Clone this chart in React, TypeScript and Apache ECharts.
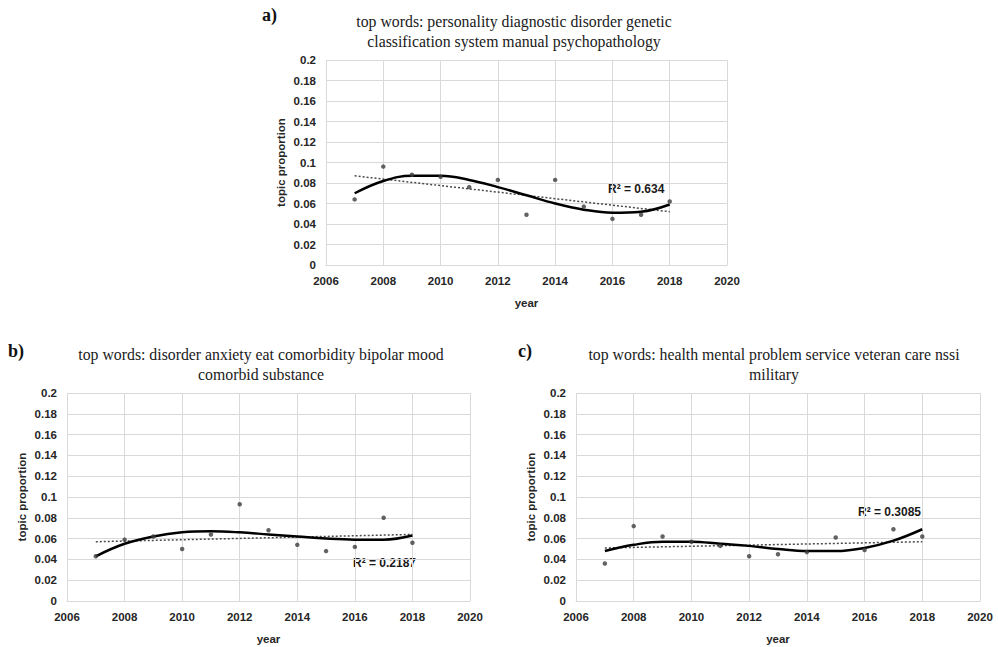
import React, { useEffect, useRef } from "react";
import * as echarts from "echarts";

const years = [2007, 2008, 2009, 2010, 2011, 2012, 2013, 2014, 2015, 2016, 2017, 2018];
const trendYears = [2007, 2018];
const xTicks = { min: 2006, max: 2020, interval: 2 };
const yTicks = { min: 0, max: 0.2, interval: 0.02 };

const aTitle = "top words: personality diagnostic disorder genetic\nclassification system manual psychopathology";
const aPoints = [0.064, 0.096, 0.088, 0.086, 0.076, 0.083, 0.049, 0.083, 0.057, 0.045, 0.049, 0.062];
const aCurve = [0.070, 0.082, 0.087, 0.087, 0.083, 0.076, 0.068, 0.060, 0.054, 0.051, 0.052, 0.059];
const aTrend = [0.087, 0.052];
const aR2 = "R² = 0.634";

const bTitle = "top words: disorder anxiety eat comorbidity bipolar mood\ncomorbid substance";
const bPoints = [0.043, 0.059, 0.062, 0.050, 0.064, 0.093, 0.068, 0.054, 0.048, 0.052, 0.080, 0.056];
const bCurve = [0.043, 0.055, 0.062, 0.066, 0.067, 0.066, 0.064, 0.062, 0.060, 0.059, 0.059, 0.063];
const bTrend = [0.057, 0.064];
const bR2 = "R² = 0.2187";

const cTitle = "top words: health mental problem service veteran care nssi\nmilitary";
const cPoints = [0.036, 0.072, 0.062, 0.057, 0.053, 0.043, 0.045, 0.047, 0.061, 0.049, 0.069, 0.062];
const cCurve = [0.048, 0.054, 0.057, 0.057, 0.055, 0.053, 0.050, 0.048, 0.048, 0.051, 0.058, 0.069];
const cTrend = [0.051, 0.057];
const cR2 = "R² = 0.3085";

const SANS = "Liberation Sans";
const SERIF = "Liberation Serif";
const GRID = "#d9d9d9";
const TXT = "#262626";

const panels = [
  { title: aTitle, label: "a)", points: aPoints, curve: aCurve, trend: aTrend, r2: aR2,
    grid: { left: 326, top: 60, width: 401, height: 205 }, titleX: 509, titleY: 6, labelX: 262, labelY: 6, r2X: 608, r2Y: 183 },
  { title: bTitle, label: "b)", points: bPoints, curve: bCurve, trend: bTrend, r2: bR2,
    grid: { left: 67, top: 393, width: 403, height: 208 }, titleX: 256, titleY: 339, labelX: 8, labelY: 342, r2X: 353, r2Y: 557 },
  { title: cTitle, label: "c)", points: cPoints, curve: cCurve, trend: cTrend, r2: cR2,
    grid: { left: 576, top: 393, width: 404, height: 208 }, titleX: 769, titleY: 339, labelX: 518, labelY: 342, r2X: 858, r2Y: 506 },
];

export default function App() {
  const ref = useRef<HTMLDivElement>(null);
  useEffect(() => {
    if (!ref.current) return;
    const chart = echarts.init(ref.current, undefined, { renderer: "svg" });
    const axisLabel = { color: TXT, fontFamily: SANS, fontWeight: "bold", fontSize: 11.5 };
    const option: any = {
      animation: false,
      backgroundColor: "#ffffff",
      title: panels.map((p) => ({
        text: p.title,
        left: p.titleX,
        top: p.titleY,
        textAlign: "center",
        textStyle: { fontFamily: SERIF, fontWeight: "normal", fontSize: 15.8, color: "#1a1a1a", lineHeight: 20 },
      })),
      grid: panels.map((p) => ({ ...p.grid })),
      xAxis: panels.map((p, i) => ({
        type: "value",
        gridIndex: i,
        ...xTicks,
        name: "year",
        nameLocation: "middle",
        nameGap: 32,
        nameTextStyle: { color: TXT, fontFamily: SANS, fontWeight: "bold", fontSize: 11.5 },
        axisLine: { show: true, lineStyle: { color: GRID, width: 1 } },
        axisTick: { show: false },
        axisLabel: { ...axisLabel, margin: 10, formatter: (v: number) => String(v) },
        splitLine: { show: true, lineStyle: { color: GRID, width: 1 } },
      })),
      yAxis: panels.map((p, i) => ({
        type: "value",
        gridIndex: i,
        ...yTicks,
        name: "topic proportion",
        nameLocation: "middle",
        nameGap: 39,
        nameRotate: 90,
        nameTextStyle: { color: TXT, fontFamily: SANS, fontWeight: "bold", fontSize: 11.5 },
        axisLine: { show: false },
        axisTick: { show: false },
        axisLabel: { ...axisLabel, margin: 10, formatter: (v: number) => String(+v.toFixed(2)) },
        splitLine: { show: true, lineStyle: { color: GRID, width: 1 } },
      })),
      series: panels.flatMap((p, i) => [
        {
          type: "line",
          xAxisIndex: i,
          yAxisIndex: i,
          data: trendYears.map((y, k) => [y, p.trend[k]]),
          symbol: "none",
          lineStyle: { color: "#4a4a4a", width: 1.5, type: [2, 2] },
          z: 2,
        },
        {
          type: "line",
          xAxisIndex: i,
          yAxisIndex: i,
          data: years.map((y, k) => [y, p.curve[k]]),
          symbol: "none",
          smooth: 0.4,
          lineStyle: { color: "#000000", width: 2.5 },
          z: 3,
        },
        {
          type: "scatter",
          xAxisIndex: i,
          yAxisIndex: i,
          data: years.map((y, k) => [y, p.points[k]]),
          symbol: "circle",
          symbolSize: 4.5,
          itemStyle: { color: "#3c3c3c" },
          z: 4,
        },
      ]),
      graphic: panels.flatMap((p) => [
        {
          type: "text",
          left: p.labelX,
          top: p.labelY,
          style: { text: p.label, fontFamily: SERIF, fontWeight: "bold", fontSize: 18, fill: "#111" },
        },
        {
          type: "text",
          left: p.r2X,
          top: p.r2Y,
          style: { text: p.r2, fontFamily: SANS, fontWeight: "bold", fontSize: 12, fill: "#1a1a1a" },
        },
      ]),
    };
    chart.setOption(option);
    return () => chart.dispose();
  }, []);
  return (
    <div
      ref={ref}
      style={{ position: "fixed", left: 0, top: 0, width: 998, height: 647, background: "#fff" }}
    />
  );
}
